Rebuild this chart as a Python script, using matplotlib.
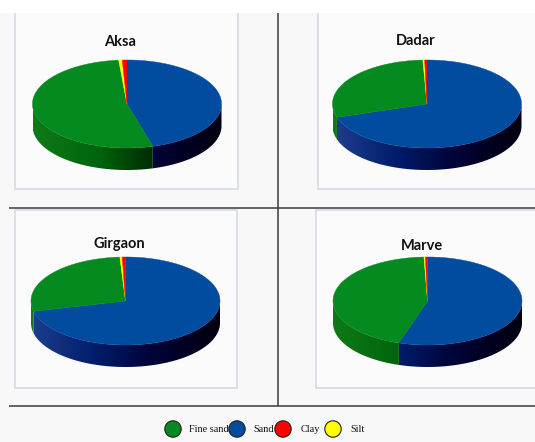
import numpy as np
import matplotlib
matplotlib.use('Agg')
import matplotlib.pyplot as plt
from matplotlib.patches import Polygon, Rectangle, Circle
from matplotlib.colors import LinearSegmentedColormap

# ---------------- data ----------------
sites = ['Aksa', 'Dadar', 'Girgaon', 'Marve']
components = ['Fine sand', 'Sand', 'Clay', 'Silt']
fine_sand = [53.0, 29.2, 27.8, 44.5]
sand = [45.6, 70.1, 71.25, 54.9]
clay = [0.8, 0.4, 0.55, 0.35]
silt = [0.6, 0.3, 0.4, 0.25]

# ---------------- style ----------------
top_colors = {'Fine sand': '#048a1e', 'Sand': '#014c9f', 'Clay': '#ff0000', 'Silt': '#ffff00'}
side_cmaps = {
    'Fine sand': [(0.0, (15/255, 122/255, 25/255)), (0.35, (0, 100/255, 12/255)),
                  (0.6, (0, 50/255, 5/255)), (0.8, (0, 22/255, 2/255)), (1.0, (0, 8/255, 0))],
    'Sand': [(0.0, (30/255, 62/255, 142/255)), (0.35, (0, 28/255, 105/255)),
             (0.6, (0, 6/255, 62/255)), (0.8, (0, 0, 36/255)), (1.0, (0, 0, 15/255))],
    'Clay': [(0.0, (0.8, 0, 0)), (1.0, (0.1, 0, 0))],
    'Silt': [(0.0, (0.8, 0.8, 0)), (1.0, (0.1, 0.1, 0))],
}
cmaps = {k: LinearSegmentedColormap.from_list(k, v) for k, v in side_cmaps.items()}

W, H = 535, 442
fig = plt.figure(figsize=(W / 100, H / 100), dpi=100)
fig.patch.set_facecolor('white')
ax = fig.add_axes([0, 0, 1, 1])
ax.set_xlim(0, W)
ax.set_ylim(H, 0)
ax.axis('off')

# background
ax.add_patch(Rectangle((0, 13), W, H - 13, facecolor='#f8f8f8', edgecolor='none', zorder=0))

# panels (x0, y0, x1, y1)
panels = [(15, 0, 238, 189), (318, 0, 560, 189), (15, 210, 237, 388), (316, 210, 560, 388)]
for (x0, y0, x1, y1) in panels:
    ax.add_patch(Rectangle((x0, y0), x1 - x0, y1 - y0, facecolor='#fbfbfc',
                           edgecolor='#d4dbe5', lw=1.2, zorder=1))
# white top strip
ax.add_patch(Rectangle((0, 0), W, 13, facecolor='white', edgecolor='none', zorder=2))

# separator lines
ax.plot([277.5, 277.5], [13, 406], color='#3c3c3c', lw=1.1, zorder=3, solid_capstyle='butt')
ax.plot([9, W], [208, 208], color='#3c3c3c', lw=1.1, zorder=3, solid_capstyle='butt')
ax.plot([9, W], [406, 406], color='#3c3c3c', lw=1.1, zorder=3, solid_capstyle='butt')

# pie geometry
centers = [(127, 104), (427, 104), (125.5, 301), (427.5, 301)]
title_pos = [(120, 42), (416, 41), (119, 244), (422, 246)]
A, B, D = 94.5, 44.0, 22.0


def ell(cx, cy, t):
    r = np.radians(t)
    return cx + A * np.cos(r), cy - B * np.sin(r)


def draw_pie(cx, cy, vals, names):
    total = float(sum(vals))
    start = 90.0
    slices = []
    for v, n in zip(vals, names):
        end = start - 360.0 * v / total
        slices.append((end, start, n))
        start = end
    # side walls
    for (t2, t1, n) in slices:
        for (i0, i1) in [(-180, 0), (180, 360), (-540, -360)]:
            lo, hi = max(t2, i0), min(t1, i1)
            if lo < hi:
                ts = np.linspace(lo, hi, 80)
                xs, ys = ell(cx, cy, ts)
                pts = np.concatenate([np.column_stack([xs, ys]),
                                      np.column_stack([xs[::-1], ys[::-1] + D])])
                poly = Polygon(pts, closed=True, facecolor='none', edgecolor='none',
                               transform=ax.transData)
                grad = cmaps[n](np.linspace(0, 1, 256))[None, :, :]
                im = ax.imshow(grad, extent=[cx - A, cx + A, cy + B + D + 2, cy - B - 2],
                               aspect='auto', zorder=4, interpolation='bilinear')
                im.set_clip_path(poly)
    # top face
    for (t2, t1, n) in slices:
        ts = np.linspace(t1, t2, max(3, int((t1 - t2) * 2)))
        xs, ys = ell(cx, cy, ts)
        pts = np.vstack([[cx, cy], np.column_stack([xs, ys])])
        ax.add_patch(Polygon(pts, closed=True, facecolor=top_colors[n],
                             edgecolor=top_colors[n], lw=0.3, zorder=5))


for i, site in enumerate(sites):
    vals = [sand[i], fine_sand[i], silt[i], clay[i]]
    names = ['Sand', 'Fine sand', 'Silt', 'Clay']
    cx, cy = centers[i]
    draw_pie(cx, cy, vals, names)
    tx, ty = title_pos[i]
    ax.text(tx, ty, site, ha='center', va='center', fontsize=10.5,
            fontweight='bold', family='Lato', color='#111111', zorder=6)

# legend
leg_marker_x = [173, 237, 283, 333]
leg_text_x = [189, 253, 301, 350]
leg_y = 429
for name, mx, tx in zip(components, leg_marker_x, leg_text_x):
    ax.add_patch(Circle((mx, leg_y), 8.2, facecolor=top_colors[name],
                        edgecolor='#222222', lw=0.8, zorder=7))
    ax.text(tx, leg_y + 0.5, name, ha='left', va='center', fontsize=7.4,
            family='Liberation Serif', color='#111111', zorder=6)

ax.set_xlim(0, W)
ax.set_ylim(H, 0)
fig.savefig('out.png', dpi=100, facecolor=fig.get_facecolor())
